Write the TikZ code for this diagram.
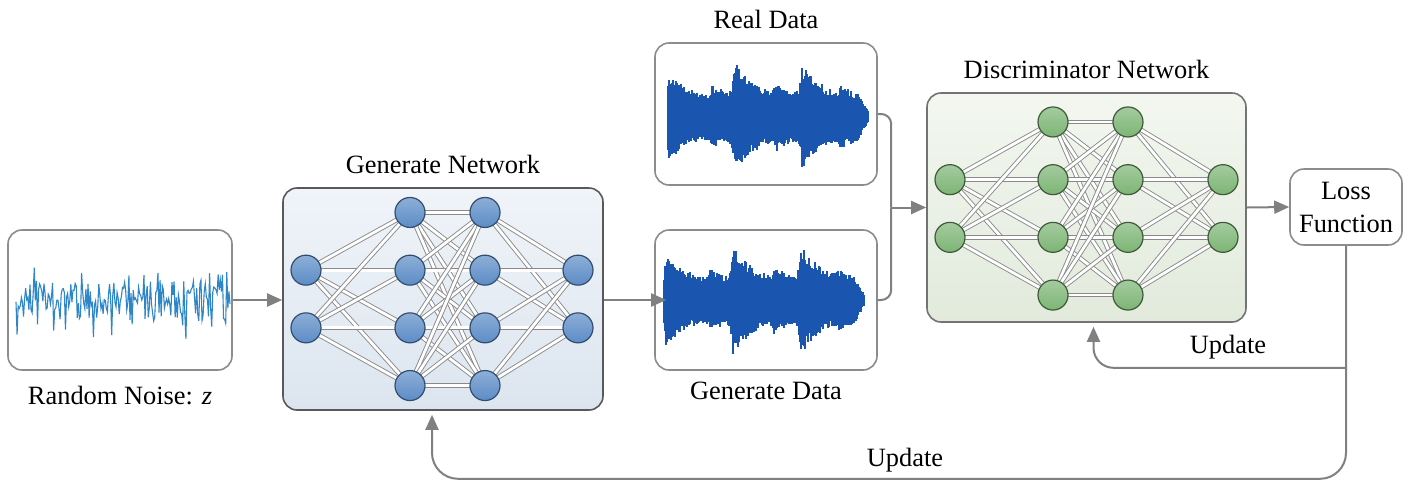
\documentclass[tikz,border=0pt]{standalone}
\usepackage{fontspec}
\setmainfont{Liberation Serif}
\usetikzlibrary{positioning, arrows.meta}

\definecolor{flowgray}{HTML}{808080}
\definecolor{boxgray}{HTML}{8C8C8C}
\definecolor{linkgray}{HTML}{8A8A8A}
\definecolor{wavblue}{HTML}{1A56B0}
\definecolor{noiseblue}{HTML}{2D86C8}
\definecolor{genlight}{HTML}{F0F4F9}
\definecolor{gendark}{HTML}{DCE5EF}
\definecolor{disclight}{HTML}{F3F7F0}
\definecolor{discdark}{HTML}{E2EADC}
\definecolor{blueunit}{HTML}{5C8CC6}
\definecolor{greenunit}{HTML}{7DB575}

% one audio trace: #1 left x, #2 centre y, #3 seed, #4 envelope in \t
\newcommand{\audiowave}[4]{%
  \pgfmathsetseed{#3}
  \foreach \t in {0,...,200}{
    \pgfmathsetmacro{\env}{(#4)*min(1,(204-\t)/14)}
    \pgfmathsetmacro{\up}{\env*(0.72+0.28*rnd)}
    \pgfmathsetmacro{\dn}{\env*(0.72+0.28*rnd)}
    \draw[wave] (#1+\t, #2-\up) -- (#1+\t, #2+\dn);
  }}

\begin{document}
\begin{tikzpicture}[x=0.5pt, y=-0.5pt, node distance=3pt,
    font=\fontsize{13.2}{16.5}\selectfont,
    declare function={burst(\t,\b)=(\t>=\b)*exp(-abs(\t-\b)/24)+(\t<\b)*exp(-abs(\t-\b)/2);}]
    \tikzset{
      panel/.style={
        rectangle, rounded corners=7pt,
        draw=boxgray, line width=0.8pt, fill=white, inner sep=0pt
      },
      genpanel/.style={panel, draw=black!65, top color=genlight, bottom color=gendark},
      discpanel/.style={panel, draw=black!55, top color=disclight, bottom color=discdark},
      link/.style={draw=linkgray, line width=0.45pt, double=white, double distance=1.4pt},
      gunit/.style={circle, minimum size=15pt, inner sep=0pt, line width=0.6pt,
        draw=blueunit!55!black, top color=blueunit!70!white, bottom color=blueunit},
      dunit/.style={circle, minimum size=15pt, inner sep=0pt, line width=0.6pt,
        draw=greenunit!50!black, top color=greenunit!70!white, bottom color=greenunit},
      line/.style={draw=flowgray, line width=1pt},
      flow/.style={line, -{Triangle[length=7.5pt, width=6.5pt]}},
      wave/.style={draw=wavblue, line width=0.7pt}
    }
    \useasboundingbox (0,0) rectangle (1410,483);

    % Panels
    \node[panel, minimum width=112pt, minimum height=70pt] (noise) at (120,300) {};
    \node[genpanel, minimum width=160pt, minimum height=111pt] (gen) at (443,299) {};
    \node[panel, minimum width=111pt, minimum height=71pt] (real) at (766,114) {};
    \node[panel, minimum width=111pt, minimum height=70pt] (gdata) at (766,300) {};
    \node[discpanel, minimum width=159.5pt, minimum height=114.5pt] (disc) at (1086.5,207.5) {};
    \node[panel, minimum width=56pt, minimum height=38pt, align=center] (loss) at (1346,207) {Loss\\Function};

    % Captions
    \node[below=4pt of noise] (noisecap) {Random Noise: \textit{z}};
    \node[above=3pt of gen] (gencap) {Generate Network};
    \node[above=3pt of real] (realcap) {Real Data};
    \node[below=2pt of gdata] (gdatacap) {Generate Data};
    \node[above=3pt of disc] (disccap) {Discriminator Network};

    % Signals
    \pgfmathsetseed{7}
    \draw[noiseblue, line width=0.55pt]
      plot[domain=16:230, samples=200] (\x, {300+19*rand+22*rand^3});
    \audiowave{668}{117}{11}{17+28*burst(\t,1)+34*burst(\t,67)+30*burst(\t,134)+11*burst(\t,44)+11*burst(\t,108)+8*burst(\t,172)}
    \audiowave{664}{300}{23}{17+29*burst(\t,2)+32*burst(\t,69)+32*burst(\t,137)+10*burst(\t,46)+11*burst(\t,110)+8*burst(\t,175)}

    % Generator network
    \foreach \c/\x/\n in {1/306/2, 2/410/4, 3/485/4, 4/578/2}
      \foreach \r in {1,...,\n}
        \coordinate (g\c\r) at (\x, {299+(\r-(\n+1)/2)*57.7});
    \foreach \a/\b/\na/\nb in {1/2/2/4, 2/3/4/4, 3/4/4/2}
      \foreach \i in {1,...,\na}
        \foreach \j in {1,...,\nb}
          \draw[link] (g\a\i) -- (g\b\j);
    \foreach \c/\n in {1/2, 2/4, 3/4, 4/2}
      \foreach \r in {1,...,\n}
        \node[gunit] (gu\c\r) at (g\c\r) {};

    % Discriminator network
    \foreach \c/\x/\n in {1/950/2, 2/1053/4, 3/1128/4, 4/1223/2}
      \foreach \r in {1,...,\n}
        \coordinate (d\c\r) at (\x, {208.5+(\r-(\n+1)/2)*57.7});
    \foreach \a/\b/\na/\nb in {1/2/2/4, 2/3/4/4, 3/4/4/2}
      \foreach \i in {1,...,\na}
        \foreach \j in {1,...,\nb}
          \draw[link] (d\a\i) -- (d\b\j);
    \foreach \c/\n in {1/2, 2/4, 3/4, 4/2}
      \foreach \r in {1,...,\n}
        \node[dunit] (du\c\r) at (d\c\r) {};

    % Forward flow
    \draw[flow] (noise.east) -- (gen.west |- noise.east);
    \draw[flow] (gen.east |- gdata.west) -- ([xshift=6pt]gdata.west);
    \path (disc.west) ++(-17.5pt,0) coordinate (merge);
    \draw[line, rounded corners=5pt] (real.east) -| (merge);
    \draw[line, rounded corners=5pt] (gdata.east) -| (merge);
    \draw[flow] (merge) -- (disc.west);
    \draw[flow] (disc.east) -- (loss.west);

    % Feedback
    \path (loss.south) ++(0,122) coordinate (split);
    \path (loss.south) ++(0,233) coordinate (low);
    \draw[flow, rounded corners=13pt] (loss.south) |- ([xshift=-5.5pt]gen.south |- low)
      -- ([xshift=-5.5pt, yshift=-2pt]gen.south);
    \draw[flow, rounded corners=10pt] (split) -| ([xshift=3.5pt, yshift=-2pt]disc.south);
    \node (upd1) at (1228,347) {Update};
    \node (upd2) at (905,460) {Update};
  \end{tikzpicture}
\end{document}
